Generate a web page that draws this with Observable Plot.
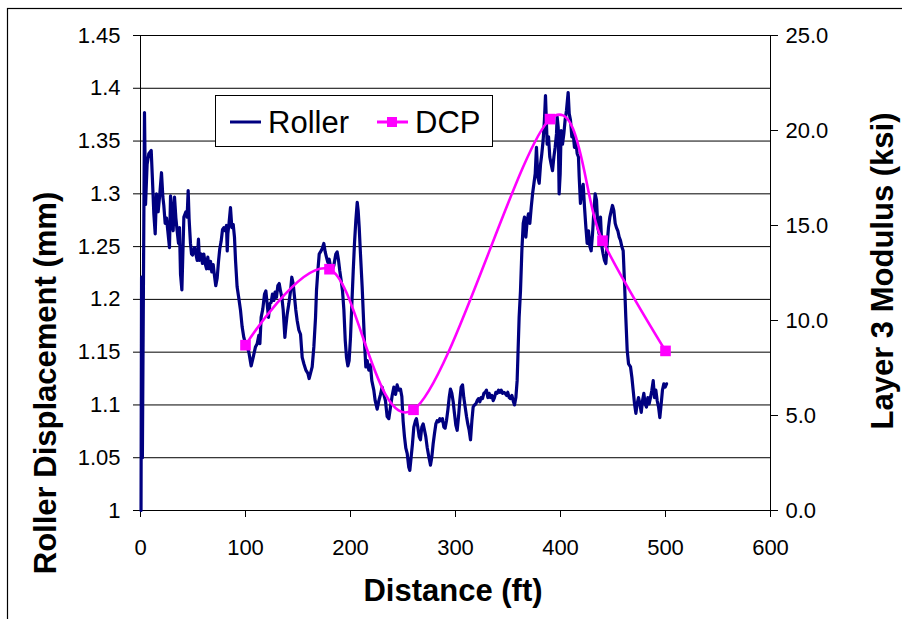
<!DOCTYPE html>
<html><head><meta charset="utf-8">
<script src="https://cdn.jsdelivr.net/npm/d3@7"></script>
<script src="https://cdn.jsdelivr.net/npm/@observablehq/plot@0.6"></script>
<style>body{margin:0;background:#fff}</style>
</head><body><div id="chart"></div>
<script>
// Roller series (distance ft, displacement mm)
const rollerDistance = [0.5,1.0,1.8,3.8,4.8,6.3,7.9,10.2,11.4,12.7,14.0,15.2,16.8,18.4,20.0,21.3,22.2,23.5,24.8,26.0,27.6,28.6,29.8,31.1,32.4,33.7,34.9,36.2,37.1,38.1,39.4,41.3,43.2,44.4,45.4,46.3,47.6,48.6,49.5,51.4,52.7,54.0,55.2,56.2,57.8,59.0,60.3,61.6,62.9,64.1,65.4,66.7,67.9,69.2,70.5,71.7,73.0,74.3,75.5,76.8,78.1,79.4,80.6,81.9,82.6,83.2,84.4,85.7,87.0,88.3,89.5,90.5,92.0,93.5,95.2,96.8,98.4,100.0,101.6,103.2,105.4,107.3,109.5,111.1,112.7,113.7,114.9,116.5,118.1,119.4,120.6,121.9,123.2,124.4,125.7,127.0,128.2,129.5,130.8,132.1,133.3,134.6,135.9,137.5,138.4,139.7,141.3,142.9,144.1,145.4,146.7,147.9,149.2,150.8,152.4,154.0,155.6,157.5,159.4,160.6,161.9,163.5,165.1,166.7,167.6,168.9,170.2,171.4,173.0,174.6,175.9,177.1,178.4,179.7,181.0,182.5,184.1,186.0,187.3,188.6,189.8,191.1,192.4,193.7,195.0,196.2,197.5,198.7,200.0,201.3,202.6,203.8,205.1,206.4,207.3,208.3,209.5,211.1,212.2,213.3,214.6,215.9,217.4,219.0,220.3,222.2,223.5,225.4,227.0,228.6,230.1,231.7,233.3,234.9,236.5,238.1,239.7,241.3,242.9,244.4,246.0,247.6,248.9,250.1,251.4,252.7,254.0,255.5,256.5,257.8,259.0,260.3,261.9,262.8,264.1,265.4,266.6,267.9,269.2,270.5,271.7,273.0,274.6,276.2,277.5,278.7,280.0,281.3,282.5,283.8,285.1,286.3,287.6,288.9,290.1,291.4,292.7,294.0,295.2,296.5,297.8,299.0,300.3,301.6,302.9,304.1,305.4,306.7,307.9,309.2,310.5,311.7,313.0,314.3,315.6,316.8,318.1,319.4,320.6,321.9,323.2,324.4,325.7,327.0,328.3,329.5,330.8,332.1,333.3,334.6,335.9,337.1,338.4,339.7,341.0,342.2,343.5,344.8,346.0,347.3,348.6,349.8,351.1,352.4,353.7,354.9,356.2,357.5,358.7,359.4,360.6,361.9,363.2,364.5,365.7,367.0,368.3,369.5,370.8,372.1,373.4,374.6,375.9,377.1,378.4,379.7,381.0,382.2,383.5,384.7,385.7,386.4,387.3,388.6,389.8,391.1,392.4,393.7,394.9,396.2,396.8,397.8,398.7,399.7,400.6,401.9,403.2,404.4,405.7,407.3,408.3,409.5,410.8,412.1,413.3,414.6,415.9,417.1,417.8,419.0,420.3,421.6,422.9,424.2,425.4,426.7,428.0,429.2,430.5,431.8,433.0,434.3,435.6,436.8,438.1,439.4,440.6,441.9,443.2,444.5,445.7,447.0,448.3,449.5,450.8,452.1,453.3,454.6,455.9,457.1,458.4,459.7,461.0,462.2,463.5,464.8,466.7,468.0,469.2,470.5,471.8,473.0,474.3,475.6,476.9,478.1,479.4,480.6,481.9,483.2,484.4,485.7,487.0,488.3,489.5,490.8,492.1,493.4,494.6,495.9,497.1,498.4,499.7,501.0];
const rollerDisp = [1.000,1.221,1.050,1.377,1.290,1.328,1.338,1.341,1.313,1.281,1.262,1.300,1.283,1.300,1.320,1.297,1.289,1.272,1.277,1.265,1.249,1.298,1.284,1.265,1.297,1.277,1.265,1.253,1.268,1.224,1.209,1.278,1.283,1.278,1.303,1.276,1.253,1.243,1.242,1.249,1.243,1.237,1.257,1.237,1.243,1.234,1.243,1.234,1.229,1.240,1.229,1.236,1.226,1.233,1.222,1.213,1.220,1.236,1.248,1.255,1.266,1.268,1.265,1.270,1.246,1.262,1.273,1.287,1.268,1.271,1.259,1.237,1.212,1.202,1.190,1.174,1.164,1.158,1.155,1.150,1.137,1.145,1.155,1.158,1.166,1.158,1.183,1.191,1.205,1.208,1.196,1.183,1.196,1.197,1.205,1.199,1.207,1.202,1.213,1.215,1.208,1.202,1.190,1.164,1.174,1.186,1.196,1.208,1.221,1.215,1.202,1.190,1.180,1.171,1.167,1.145,1.139,1.133,1.130,1.125,1.130,1.136,1.155,1.183,1.208,1.227,1.243,1.245,1.248,1.253,1.245,1.240,1.235,1.238,1.231,1.228,1.232,1.243,1.245,1.237,1.227,1.218,1.208,1.190,1.161,1.145,1.137,1.142,1.164,1.196,1.227,1.253,1.275,1.292,1.284,1.268,1.243,1.212,1.186,1.160,1.136,1.142,1.133,1.138,1.123,1.114,1.104,1.096,1.104,1.110,1.117,1.110,1.104,1.089,1.087,1.098,1.109,1.117,1.110,1.119,1.114,1.115,1.108,1.085,1.070,1.059,1.054,1.041,1.038,1.051,1.063,1.079,1.085,1.087,1.079,1.070,1.067,1.079,1.082,1.076,1.070,1.060,1.051,1.043,1.051,1.063,1.073,1.082,1.085,1.084,1.087,1.085,1.087,1.079,1.078,1.085,1.095,1.107,1.115,1.111,1.103,1.092,1.081,1.076,1.089,1.104,1.117,1.119,1.107,1.098,1.089,1.082,1.076,1.067,1.085,1.098,1.100,1.101,1.104,1.106,1.103,1.107,1.106,1.111,1.112,1.114,1.107,1.111,1.107,1.109,1.104,1.107,1.112,1.111,1.114,1.112,1.114,1.111,1.112,1.111,1.109,1.112,1.107,1.106,1.109,1.104,1.100,1.107,1.123,1.145,1.183,1.208,1.246,1.272,1.278,1.259,1.275,1.281,1.272,1.287,1.300,1.309,1.319,1.344,1.316,1.310,1.328,1.338,1.351,1.370,1.393,1.373,1.347,1.354,1.335,1.328,1.322,1.335,1.344,1.357,1.373,1.363,1.300,1.319,1.360,1.347,1.357,1.370,1.379,1.396,1.376,1.370,1.354,1.357,1.344,1.350,1.338,1.335,1.316,1.291,1.303,1.309,1.287,1.268,1.253,1.265,1.250,1.246,1.262,1.284,1.300,1.294,1.268,1.262,1.278,1.250,1.243,1.237,1.234,1.253,1.268,1.278,1.284,1.289,1.284,1.272,1.268,1.265,1.259,1.256,1.250,1.246,1.215,1.183,1.152,1.139,1.136,1.126,1.114,1.101,1.092,1.101,1.107,1.101,1.093,1.104,1.111,1.101,1.098,1.107,1.101,1.107,1.114,1.123,1.107,1.114,1.104,1.098,1.088,1.101,1.114,1.120,1.117,1.120];

// DCP series (distance ft, Layer 3 modulus ksi)
const dcpDistance = [100, 180, 260, 390, 440, 500];
const dcpModulus = [8.7, 12.7, 5.3, 20.6, 14.2, 8.4];

// Tick values
const leftTicks = [1, 1.05, 1.1, 1.15, 1.2, 1.25, 1.3, 1.35, 1.4, 1.45];
const rightTicks = [0, 5, 10, 15, 20, 25];
const xTicks = [0, 100, 200, 300, 400, 500, 600];
const seriesNames = ["Roller", "DCP"];
const xTitle = "Distance (ft)";
const yTitle = "Roller Displacement (mm)";
const y2Title = "Layer 3 Modulus (ksi)";

// right axis (0..25 ksi) mapped onto left axis (1..1.45 mm)
const K = (1.45 - 1) / 25;
const toLeft = k => 1 + k * K;

const roller = rollerDistance.map((d, i) => ({x: d, y: rollerDisp[i]}));
const dcp = dcpDistance.map((d, i) => ({x: d, y: toLeft(dcpModulus[i])}));

const FONT = "'Liberation Sans', Arial, sans-serif";

const plot = Plot.plot({
  width: 902, height: 619,
  marginLeft: 140, marginRight: 132, marginTop: 35, marginBottom: 109,
  style: {fontFamily: FONT, fontSize: "22px", color: "#000", background: "#fff"},
  x: {domain: [0, 600]},
  y: {domain: [1, 1.45]},
  marks: [
    Plot.ruleY(leftTicks, {stroke: "#000", strokeWidth: 1}),
    Plot.frame({stroke: "#000", strokeWidth: 1}),
    Plot.axisY(leftTicks, {anchor: "left", tickSize: 7, tickPadding: 13, label: null,
      tickFormat: d => String(+d.toFixed(2))}),
    Plot.axisY(rightTicks.map(toLeft), {anchor: "right", tickSize: 7, tickPadding: 8, label: null,
      tickFormat: d => ((d - 1) / K).toFixed(1)}),
    Plot.axisX(xTicks, {anchor: "bottom", tickSize: 7, tickPadding: 22, label: null}),
    Plot.line(roller, {x: "x", y: "y", stroke: "#000080", strokeWidth: 3.2, strokeLinejoin: "round"}),
    Plot.line(dcp, {x: "x", y: "y", stroke: "#ff00ff", strokeWidth: 2.6, curve: "cardinal"}),
    Plot.dot(dcp, {x: "x", y: "y", symbol: "square", r: 6, fill: "#ff00ff", stroke: "none"})
  ]
});

document.getElementById("chart").appendChild(plot);

const svg = d3.select(plot);
// outer chart border
svg.insert("rect", ":first-child")
  .attr("x", 7.5).attr("y", 8.5).attr("width", 1000).attr("height", 1000)
  .attr("fill", "none").attr("stroke", "#000").attr("stroke-width", 1.2);

const titleStyle = t => t.attr("font-family", FONT).attr("font-weight", "bold")
  .attr("font-size", 31).attr("fill", "#000").attr("text-anchor", "middle");

titleStyle(svg.append("text")).attr("x", 453).attr("y", 601).text(xTitle);
titleStyle(svg.append("text")).attr("transform", "translate(56,383) rotate(-90)").text(yTitle);
titleStyle(svg.append("text")).attr("transform", "translate(893,271) rotate(-90)").text(y2Title);

// legend
const lg = svg.append("g").attr("text-anchor", "start");
lg.append("rect").attr("x", 215.5).attr("y", 95.5).attr("width", 277).attr("height", 51)
  .attr("fill", "#fff").attr("stroke", "#000").attr("stroke-width", 1);
lg.append("line").attr("x1", 230).attr("x2", 261).attr("y1", 122).attr("y2", 122)
  .attr("stroke", "#000080").attr("stroke-width", 3);
lg.append("text").attr("x", 268).attr("y", 133).attr("font-family", FONT).attr("font-size", 31)
  .attr("text-anchor", "start").text(seriesNames[0]);
lg.append("line").attr("x1", 377).attr("x2", 408).attr("y1", 122).attr("y2", 122)
  .attr("stroke", "#ff00ff").attr("stroke-width", 3);
lg.append("rect").attr("x", 387).attr("y", 117).attr("width", 10).attr("height", 10).attr("fill", "#ff00ff");
lg.append("text").attr("x", 415).attr("y", 133).attr("font-family", FONT).attr("font-size", 31)
  .attr("text-anchor", "start").text(seriesNames[1]);
</script>
</body></html>
